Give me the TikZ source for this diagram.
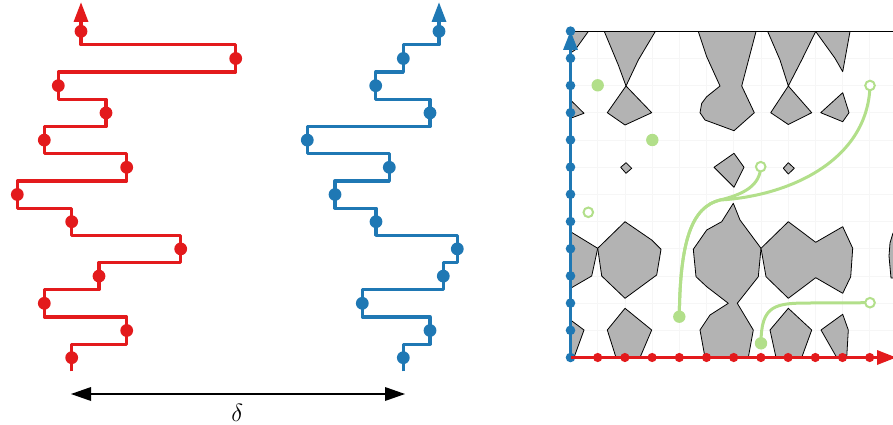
\documentclass[tikz,border=0pt]{standalone}
\usetikzlibrary{arrows.meta}
\definecolor{cred}{HTML}{E31A1C}
\definecolor{cblue}{HTML}{1F78B4}
\definecolor{cgreen}{HTML}{B2DF8A}
\definecolor{cgrey}{HTML}{B3B3B3}
\definecolor{cgrid}{HTML}{F6F6F6}
\begin{document}
\begin{tikzpicture}[x=1pt,y=-1pt,
  stairline/.style={line width=3.2pt,line join=round},
  blob/.style={fill=cgrey,draw=black,line width=0.8pt,line join=round},
  gline/.style={cgreen,line width=3pt},
  gopen/.style={draw=cgreen,line width=2pt,fill=white},
  axline/.style={line width=3.2pt}]
\useasboundingbox (0,0) rectangle (893,425);

% ---------- left: red staircase ----------
\foreach \x [count=\k from 0] in {71.7,126.7,44.3,99,180.7,71.7,17.3,126.7,44.3,106,58.3,235.7,81}
  \coordinate (r\k) at (\x,357.7-27.2*\k);
\coordinate (rbase) at (81,22);
\draw[stairline,cred] ([yshift=-13.6pt]r0) -- (r0)
  \foreach \k in {1,...,12} { -- ++(0,-13.6) -| (r\k) } -- (rbase);
\fill[cred] ([xshift=-7.5pt]rbase) -- ([xshift=7.5pt]rbase) -- (81,2.5) -- cycle;
\foreach \k in {0,...,12} \fill[cred] (r\k) circle (6.4pt);

% ---------- middle: blue staircase ----------
\foreach \x [count=\k from 0] in {403.3,430,362.3,443.3,457.3,376,335,389.3,307.3,430,375.7,403.3,439}
  \coordinate (b\k) at (\x,357.7-27.2*\k);
\coordinate (bbase) at (439,22);
\draw[stairline,cblue] ([yshift=-13.6pt]b0) -- (b0)
  \foreach \k in {1,...,12} { -- ++(0,-13.6) -| (b\k) } -- (bbase);
\fill[cblue] ([xshift=-7.5pt]bbase) -- ([xshift=7.5pt]bbase) -- (439,2.5) -- cycle;
\foreach \k in {0,...,12} \fill[cblue] (b\k) circle (6.4pt);

% ---------- delta arrow ----------
\coordinate (dl) at (71,394);
\coordinate (dr) at (405,394);
\draw[line width=2.6pt] ([xshift=18pt]dl) -- ([xshift=-18pt]dr);
\fill (dl) -- ([xshift=20pt,yshift=7pt]dl) -- ([xshift=20pt,yshift=-7pt]dl) -- cycle;
\fill (dr) -- ([xshift=-20pt,yshift=7pt]dr) -- ([xshift=-20pt,yshift=-7pt]dr) -- cycle;
\node[inner sep=0pt] (delta) at (237.3,412.5) {\fontsize{26}{30}\selectfont$\delta$};

% ---------- right panel ----------
\foreach \k in {1,...,11} {
  \draw[cgrid,line width=0.7pt] (570.5+27.2*\k,31.1) -- (570.5+27.2*\k,357.5);
  \draw[cgrid,line width=0.7pt] (570.5,357.5-27.2*\k) -- (893,357.5-27.2*\k);
}
% obstacles
\draw[blob] (570.5,31.5) -- (588.3,31.5) -- (575,50) -- (570.5,53) -- cycle;
\draw[blob] (604.3,31.5) -- (655.3,31.5) -- (638.3,60) -- (626,86) -- (618.3,65) -- cycle;
\draw[blob] (626,86) -- (651.7,112.7) -- (625,125) -- (607.3,112.7) -- cycle;
\draw[blob] (570.5,100) -- (584,113.3) -- (570.5,118.3) -- cycle;
\draw[blob] (620.7,167.3) -- (626,162.7) -- (631.7,168.3) -- (626,173.3) -- cycle;
\draw[blob] (698.3,31.5) -- (756,31.5) -- (741.7,86) -- (754.3,112.7) -- (734,130.7) -- (705,120) -- (700,112.7) -- (701.7,103.3) -- (706.7,96.7) -- (720,86) -- (706.7,56.7) -- cycle;
\draw[blob] (767.7,31.5) -- (815.7,31.5) -- (801.7,60) -- (788.3,86) -- (780,60) -- cycle;
\draw[blob] (788.3,86) -- (811.7,112.7) -- (788.3,124.5) -- (770.7,112.7) -- cycle;
\draw[blob] (815.7,31.5) -- (850,31.5) -- (842.7,71.7) -- (835,58.3) -- cycle;
\draw[blob] (842.7,92.7) -- (849,112.7) -- (842.7,121.7) -- (820.7,112.7) -- cycle;
\draw[blob] (783.3,168.3) -- (788.3,162.7) -- (794.3,168.3) -- (788.3,174) -- cycle;
\draw[blob] (714,167.3) -- (734,153.3) -- (744,167.3) -- (734,187.3) -- cycle;
\draw[blob] (570.5,231.7) -- (597.7,248.3) -- (591.7,276) -- (570.5,288.3) -- cycle;
\draw[blob] (597.7,248.3) -- (625,221.7) -- (651.7,240) -- (661,249.3) -- (656.7,275) -- (625,298.3) -- (601.7,276) -- cycle;
\draw[blob] (570.5,320) -- (584,330) -- (574,357.5) -- (570.5,357.5) -- cycle;
\draw[blob] (607.3,330) -- (625,308.3) -- (651.7,330) -- (640,357.5) -- (616,357.5) -- cycle;
\draw[blob] (733.3,203.3) -- (740,220) -- (761,248.3) -- (758.3,276.7) -- (737.3,303.3) -- (753.3,330) -- (748.3,357.5) -- (705,357.5) -- (700,330) -- (710,315) -- (728.3,303.3) -- (706.7,286.7) -- (696,276.7) -- (693.3,249.3) -- (706.7,230) -- (721.7,221.7) -- cycle;
\draw[blob] (761,248.3) -- (788.3,221.7) -- (815.7,242.3) -- (842.7,226.7) -- (852.7,248.3) -- (850.7,276.7) -- (842.7,293.3) -- (815.7,277.7) -- (788.3,298.3) -- (766,276.7) -- cycle;
\draw[blob] (770,330) -- (788.3,308.3) -- (811.7,330) -- (801.7,357.5) -- (776,357.5) -- cycle;
\draw[blob] (821,330) -- (842.7,314.3) -- (848.3,330) -- (846.7,357.5) -- (836.7,357.5) -- cycle;
\draw[blob] (897,233) -- (893,233) -- (890,243) -- (889,256) -- (891,278) -- (897,278) -- cycle;
% top border
\draw[line width=0.8pt] (570.5,31.1) -- (893,31.1);

% green paths
\coordinate (g1) at (679.3,316.7);
\coordinate (g2) at (761,343.3);
\coordinate (g3) at (597.7,85.3);
\coordinate (g4) at (652.3,140);
\coordinate (o1) at (760.7,166.7);
\coordinate (o2) at (870,85.5);
\coordinate (o3) at (870,302.7);
\coordinate (o4) at (588.3,212.3);
\draw[gline] (g1) .. controls (680,240) and (692,207) .. (720,200) .. controls (745,194) and (760,185) .. (o1);
\draw[gline] (g1) .. controls (680,240) and (692,207) .. (720,200) .. controls (790,196) and (868,160) .. (o2);
\draw[gline] (g2) .. controls (761,305) and (775,303) .. (810,303) -- (o3);
\foreach \p in {g1,g2,g3,g4} \fill[cgreen] (\p) circle (6.2pt);
\foreach \p in {o1,o2,o3,o4} \draw[gopen] (\p) circle (4.8pt);

% axes
\coordinate (O) at (570.5,357.5);
\coordinate (ybase) at (570.5,50);
\coordinate (xbase) at (877,357.5);
\draw[axline,cblue] (O) -- (ybase);
\fill[cblue] ([xshift=-7.5pt]ybase) -- ([xshift=7.5pt]ybase) -- (570.5,31) -- cycle;
\foreach \k in {0,...,12} \fill[cblue] (570.5,357.5-27.2*\k) circle (4.8pt);
\draw[axline,cred] (O) -- (xbase);
\fill[cred] ([yshift=7.5pt]xbase) -- ([yshift=-7.5pt]xbase) -- (896,357.5) -- cycle;
\foreach \k in {1,...,11} \fill[cred] (570.5+27.2*\k,357.5) circle (4.6pt);
\end{tikzpicture}
\end{document}
